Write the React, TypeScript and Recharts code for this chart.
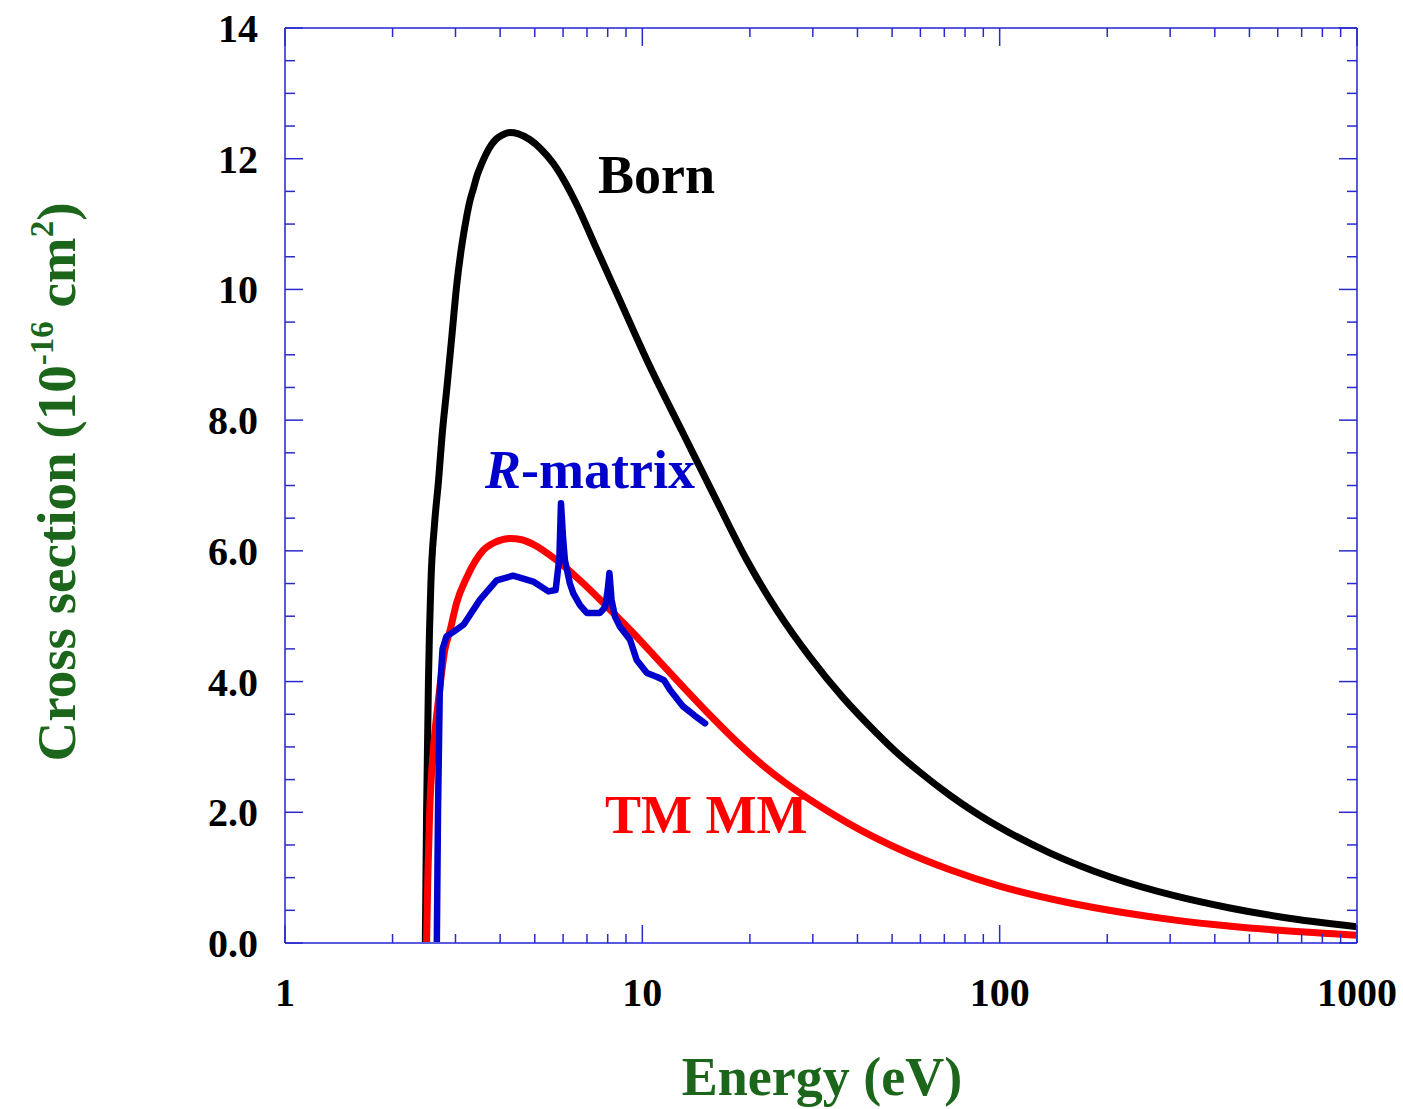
import React from 'react';
import { LineChart, Line, XAxis, YAxis } from 'recharts';

// ============================================
// Data (energy in eV, cross section in 1e-16 cm^2)
// ============================================

const BORN_E = [2.47, 2.49, 2.52, 2.56, 2.62, 2.69, 2.75, 2.84, 2.93, 3.02, 3.12, 3.22, 3.29, 3.37, 3.45, 3.55, 3.66, 3.79, 3.9, 4.05, 4.26, 4.5, 4.85, 5.2, 5.63, 6.05, 6.55, 7.45, 8.48, 10.5, 13.0, 16.1, 19.6, 23.8, 29.5, 36.5, 45.3, 52.6, 59.3, 72.6, 100, 138, 204, 310, 437, 618, 1000];
const BORN_S = [0, 2.0, 4.0, 5.5, 6.4, 7.08, 7.75, 8.51, 9.28, 10.04, 10.65, 11.1, 11.35, 11.55, 11.75, 11.92, 12.08, 12.22, 12.3, 12.36, 12.4, 12.38, 12.29, 12.15, 11.93, 11.66, 11.3, 10.62, 9.94, 8.82, 7.8, 6.78, 5.86, 5.09, 4.37, 3.75, 3.21, 2.87, 2.63, 2.26, 1.77, 1.38, 1.01, 0.72, 0.54, 0.395, 0.25];

const TMMM_E = [2.49, 2.51, 2.54, 2.6, 2.66, 2.72, 2.8, 2.9, 3.02, 3.23, 3.59, 3.9, 4.26, 4.6, 4.95, 5.75, 6.84, 7.95, 9.44, 11.2, 13.2, 15.5, 18.2, 21.4, 25.0, 29.5, 34.6, 40.7, 52.6, 72.6, 100, 155, 219, 310, 437, 618, 1000];
const TMMM_S = [0, 1.0, 2.0, 2.95, 3.5, 3.97, 4.48, 4.79, 5.2, 5.6, 6.01, 6.14, 6.19, 6.17, 6.1, 5.86, 5.5, 5.15, 4.74, 4.3, 3.88, 3.48, 3.1, 2.75, 2.46, 2.19, 1.95, 1.73, 1.43, 1.12, 0.87, 0.62, 0.47, 0.35, 0.26, 0.19, 0.12];

const RMAT_E = [2.66, 2.68, 2.71, 2.76, 2.83, 2.96, 3.16, 3.51, 3.91, 4.35, 4.95, 5.46, 5.72, 5.86, 5.92, 6.0, 6.07, 6.27, 6.41, 6.69, 6.99, 7.61, 7.87, 8.0, 8.09, 8.2, 8.39, 8.66, 9.24, 9.64, 10.3, 11.0, 11.5, 11.96, 13.0, 14.0, 14.98];
const RMAT_S = [0, 2.0, 3.8, 4.5, 4.69, 4.76, 4.87, 5.25, 5.55, 5.62, 5.53, 5.38, 5.4, 5.9, 6.73, 6.2, 5.86, 5.5, 5.35, 5.17, 5.05, 5.05, 5.14, 5.4, 5.66, 5.25, 4.99, 4.84, 4.64, 4.33, 4.13, 4.07, 4.02, 3.87, 3.62, 3.48, 3.36];

const X_TICKS = [1, 2, 3, 4, 5, 6, 7, 8, 9, 10, 20, 30, 40, 50, 60, 70, 80, 90, 100, 200, 300, 400, 500, 600, 700, 800, 900, 1000];
const X_LABELS = [1, 10, 100, 1000];
const Y_TICKS = [0, 0.5, 1, 1.5, 2, 2.5, 3, 3.5, 4, 4.5, 5, 5.5, 6, 6.5, 7, 7.5, 8, 8.5, 9, 9.5, 10, 10.5, 11, 11.5, 12, 12.5, 13, 13.5, 14];
const Y_LABELS: Record<number, string> = { 0: '0.0', 2: '2.0', 4: '4.0', 6: '6.0', 8: '8.0', 10: '10', 12: '12', 14: '14' };

const toPoints = (es: number[], ss: number[]) => es.map((e, i) => ({ e, s: ss[i] }));
const bornData = toPoints(BORN_E, BORN_S);
const tmmmData = toPoints(TMMM_E, TMMM_S);
const rmatData = toPoints(RMAT_E, RMAT_S);

// ============================================
// Styles
// ============================================

const FONT = "'Liberation Serif', 'Times New Roman', serif";
const AXIS_COLOR = '#5a5ae0';
const TICK_COLOR = '#2a2acc';
const TITLE_GREEN = '#1c661c';

const axisLine = { stroke: AXIS_COLOR, strokeWidth: 2 };

// ============================================
// Tick renderers (ticks point inward)
// ============================================

const BottomTick = (props: any) => {
  const { x, y, payload } = props;
  const major = X_LABELS.includes(payload.value);
  return (
    <g>
      <line x1={x} y1={y} x2={x} y2={y - (major ? 18 : 9)} stroke={TICK_COLOR} strokeWidth={1.5} />
      {major && (
        <text x={x} y={y + 63} textAnchor="middle" fontFamily={FONT} fontWeight="bold" fontSize={40} fill="#000">
          {payload.value}
        </text>
      )}
    </g>
  );
};

const TopTick = (props: any) => {
  const { x, y, payload } = props;
  const major = X_LABELS.includes(payload.value);
  return <line x1={x} y1={y} x2={x} y2={y + (major ? 18 : 9)} stroke={TICK_COLOR} strokeWidth={1.5} />;
};

const LeftTick = (props: any) => {
  const { x, y, payload } = props;
  const label = Y_LABELS[payload.value];
  return (
    <g>
      <line x1={x} y1={y} x2={x + (label ? 18 : 10)} y2={y} stroke={TICK_COLOR} strokeWidth={1.5} />
      {label && (
        <text x={x - 27} y={y + 14} textAnchor="end" fontFamily={FONT} fontWeight="bold" fontSize={40} fill="#000">
          {label}
        </text>
      )}
    </g>
  );
};

const RightTick = (props: any) => {
  const { x, y, payload } = props;
  const major = Y_LABELS[payload.value] !== undefined;
  return <line x1={x} y1={y} x2={x - (major ? 18 : 10)} y2={y} stroke={TICK_COLOR} strokeWidth={1.5} />;
};

// ============================================
// Component
// ============================================

export default function App() {
  return (
    <div style={{ position: 'absolute', left: 0, top: 0, width: 1403, height: 1109, background: '#fff' }}>
      <LineChart width={1403} height={1109} margin={{ top: 27, right: 45, bottom: 0, left: 0 }}>
        <XAxis
          dataKey="e"
          type="number"
          scale="log"
          domain={[1, 1000]}
          allowDataOverflow
          ticks={X_TICKS}
          interval={0}
          height={166}
          tickSize={0}
          tickMargin={0}
          tickLine={false}
          axisLine={axisLine}
          tick={<BottomTick />}
        />
        <XAxis
          xAxisId="top"
          orientation="top"
          dataKey="e"
          type="number"
          scale="log"
          domain={[1, 1000]}
          allowDataOverflow
          ticks={X_TICKS}
          interval={0}
          height={1}
          tickSize={0}
          tickMargin={0}
          tickLine={false}
          axisLine={axisLine}
          tick={<TopTick />}
        />
        <YAxis
          type="number"
          domain={[0, 14]}
          allowDataOverflow
          ticks={Y_TICKS}
          interval={0}
          width={285}
          tickSize={0}
          tickMargin={0}
          tickLine={false}
          axisLine={axisLine}
          tick={<LeftTick />}
        />
        <YAxis
          yAxisId="right"
          orientation="right"
          type="number"
          domain={[0, 14]}
          allowDataOverflow
          ticks={Y_TICKS}
          interval={0}
          width={1}
          tickSize={0}
          tickMargin={0}
          tickLine={false}
          axisLine={axisLine}
          tick={<RightTick />}
        />
        {/* invisible copy so the top / right frame axes get drawn */}
        <Line xAxisId="top" yAxisId="right" data={bornData} dataKey="s" stroke="none" dot={false} activeDot={false} isAnimationActive={false} />
        <Line data={bornData} dataKey="s" type="monotone" stroke="#000000" strokeWidth={7} dot={false} isAnimationActive={false} />
        <Line data={tmmmData} dataKey="s" type="monotone" stroke="#ff0000" strokeWidth={7} dot={false} isAnimationActive={false} />
        <Line data={rmatData} dataKey="s" type="linear" stroke="#0000cc" strokeWidth={6.5} strokeLinejoin="round" strokeLinecap="round" dot={false} isAnimationActive={false} />
      </LineChart>

      {/* Titles and curve annotations */}
      <svg width={1403} height={1109} style={{ position: 'absolute', left: 0, top: 0, pointerEvents: 'none' }}>
        <text x={822} y={1095} textAnchor="middle" fontFamily={FONT} fontWeight="bold" fontSize={54} fill={TITLE_GREEN}>
          Energy (eV)
        </text>
        <text transform="translate(75, 482) rotate(-90)" textAnchor="middle" fontFamily={FONT} fontWeight="bold" fontSize={55} fill={TITLE_GREEN}>
          Cross section (10
          <tspan dy={-22} fontSize={33}>-16</tspan>
          <tspan dy={22}> cm</tspan>
          <tspan dy={-22} fontSize={33}>2</tspan>
          <tspan dy={22}>)</tspan>
        </text>
        <text x={598} y={193} fontFamily={FONT} fontWeight="bold" fontSize={54} fill="#000">
          Born
        </text>
        <text x={485} y={488} fontFamily={FONT} fontWeight="bold" fontSize={54} fill="#0000cc">
          <tspan fontStyle="italic">R</tspan>-matrix
        </text>
        <text x={605} y={833} fontFamily={FONT} fontWeight="bold" fontSize={54} fill="#ff0000">
          TM MM
        </text>
      </svg>
    </div>
  );
}
